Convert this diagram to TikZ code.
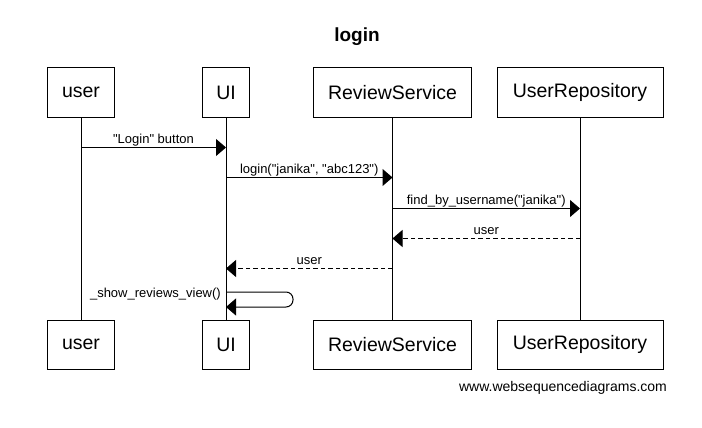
\documentclass[tikz,border=0pt]{standalone}
\usepackage{fontspec}
\setmainfont{Liberation Sans}[Ligatures=TeXOff]
\usetikzlibrary{arrows.meta}
\begin{document}
\begin{tikzpicture}[x=1pt,y=-1pt,
  actor/.style={draw,line width=1pt,minimum height=49pt,inner sep=0pt,font=\fontsize{19.5}{22}\selectfont},
  life/.style={line width=1pt},
  msg/.style={line width=1pt,-{Triangle[length=10pt,width=17pt]}},
  ret/.style={msg,dash pattern=on 4.5pt off 3pt},
  lbl/.style={font=\fontsize{13}{15}\selectfont,inner sep=0pt,text depth=3pt}]
\useasboundingbox (0,0) rectangle (702,428);
\node[font=\bfseries\fontsize{19}{22}\selectfont] (title) at (357,37) {login};
% top actors
\node[actor,minimum width=67pt] (u1) at (81,92.5) {user};
\node[actor,minimum width=47pt] (ui1) at (226,92.5) {UI};
\node[actor,minimum width=158pt] (rs1) at (392.5,92.5) {ReviewService};
\node[actor,minimum width=166pt] (ur1) at (580,92.5) {UserRepository};
% bottom actors
\node[actor,minimum width=67pt] (u2) at (81,344.5) {user};
\node[actor,minimum width=47pt] (ui2) at (226,344.5) {UI};
\node[actor,minimum width=158pt] (rs2) at (392.5,344.5) {ReviewService};
\node[actor,minimum width=166pt] (ur2) at (580,344.5) {UserRepository};
% lifelines
\draw[life] (u1) -- (u2);
\draw[life] (ui1) -- (ui2);
\draw[life] (rs1) -- (rs2);
\draw[life] (ur1) -- (ur2);
% message coordinates
\coordinate (m1a) at (u1.south |- 0,147.5);
\coordinate (m1b) at (ui1.south |- 0,147.5);
\coordinate (m2a) at (ui1.south |- 0,177.5);
\coordinate (m2b) at (rs1.south |- 0,177.5);
\coordinate (m3a) at (rs1.south |- 0,208.5);
\coordinate (m3b) at (ur1.south |- 0,208.5);
\coordinate (m4a) at (ur1.south |- 0,238.5);
\coordinate (m4b) at (rs1.south |- 0,238.5);
\coordinate (m5a) at (rs1.south |- 0,268.5);
\coordinate (m5b) at (ui1.south |- 0,268.5);
\coordinate (m6a) at (ui1.south |- 0,292);
\coordinate (m6c) at (293,292);
\coordinate (m6b) at (ui1.south |- 0,307);
\draw[msg] (m1a) -- node[lbl,above=0.5pt] (l1) {"Login" button} (m1b);
\draw[msg] (m2a) -- node[lbl,above=0.5pt] (l2) {login("janika", "abc123")} (m2b);
\draw[msg] (m3a) -- node[lbl,above=0.5pt] (l3) {find\_by\_username("janika")} (m3b);
\draw[ret] (m4a) -- node[lbl,above=0.5pt] (l4) {user} (m4b);
\draw[ret] (m5a) -- node[lbl,above=0.5pt] (l5) {user} (m5b);
\draw[msg,rounded corners=7pt] (m6a) -- (m6c) -- (m6c |- m6b) -- (m6b);
\node[lbl,text depth=0pt,anchor=base east] (l6) at (221,297) {\_show\_reviews\_view()};
\node[font=\fontsize{14}{16}\selectfont,inner sep=0pt] (foot) at (563,388) {www.websequencediagrams.com};
\end{tikzpicture}
\end{document}
